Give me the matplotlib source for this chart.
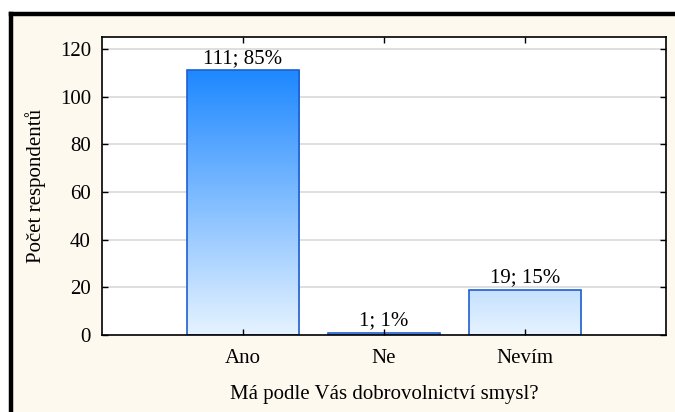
import matplotlib.pyplot as plt
import numpy as np
from matplotlib.colors import LinearSegmentedColormap
from matplotlib.lines import Line2D
from matplotlib.patches import Rectangle

plt.rcParams['font.family'] = ['Liberation Serif', 'DejaVu Serif']
plt.rcParams['font.size'] = 15

categories = ['Ano', 'Ne', 'Nevím']
counts = [111, 1, 19]
percents = [85, 1, 15]
yticks = [0, 20, 40, 60, 80, 100, 120]

W, H = 675, 412
fig = plt.figure(figsize=(W / 100, H / 100), dpi=100, facecolor='white')

# cream panel with thick black border on top/left
fig.patches.append(Rectangle((10 / W, 0), 1, (H - 13) / H, transform=fig.transFigure,
                             facecolor='#fdf9ef', edgecolor='none', zorder=-10))
fig.lines.append(Line2D([10.5 / W, 10.5 / W], [0, (H - 13.5) / H], transform=fig.transFigure,
                        color='black', lw=3.2, solid_capstyle='projecting', zorder=-5))
fig.lines.append(Line2D([10.5 / W, 1], [(H - 13.5) / H, (H - 13.5) / H], transform=fig.transFigure,
                        color='black', lw=3.2, solid_capstyle='projecting', zorder=-5))

ax = fig.add_axes([102 / W, 1 - 335 / H, (666 - 102) / W, (335 - 37) / H])
ax.set_facecolor('white')

# grid behind the bars, ticks above them
for yt in yticks[1:]:
    ax.axhline(yt, color='#d9d9d9', lw=1.2, zorder=0.5)

x = np.arange(len(categories))
bars = ax.bar(x, counts, width=0.8, facecolor='none', edgecolor='#1f5fd0', linewidth=1.2, zorder=2)

cmap = LinearSegmentedColormap.from_list('grad', ['#e6f3ff', '#1e88ff'])
grad = np.linspace(0, 1, 256).reshape(-1, 1)
for b in bars:
    im = ax.imshow(grad, cmap=cmap, origin='lower', aspect='auto',
                   extent=[-1, 3, 0, max(counts)], zorder=1.8)
    im.set_clip_path(b)

for xi, c, p in zip(x, counts, percents):
    ax.text(xi, c + 1.0, f'{c}; {p}%', ha='center', va='bottom')

ax.set_xlim(-1, 3)
ax.set_ylim(0, 125)
ax.set_xticks(x)
ax.set_xticklabels(categories)
ax.set_yticks(yticks)
ax.set_axisbelow(False)
ax.tick_params(direction='in', length=4, width=1, top=True, right=True, color='black')
ax.tick_params(axis='x', pad=10)
ax.tick_params(axis='y', pad=8)
for s in ax.spines.values():
    s.set_linewidth(1.2)
    s.set_color('black')

ax.set_xlabel('Má podle Vás dobrovolnictví smysl?', labelpad=12)
ax.set_ylabel('Počet respondentů', labelpad=10)

fig.savefig('out.png', dpi=100)
